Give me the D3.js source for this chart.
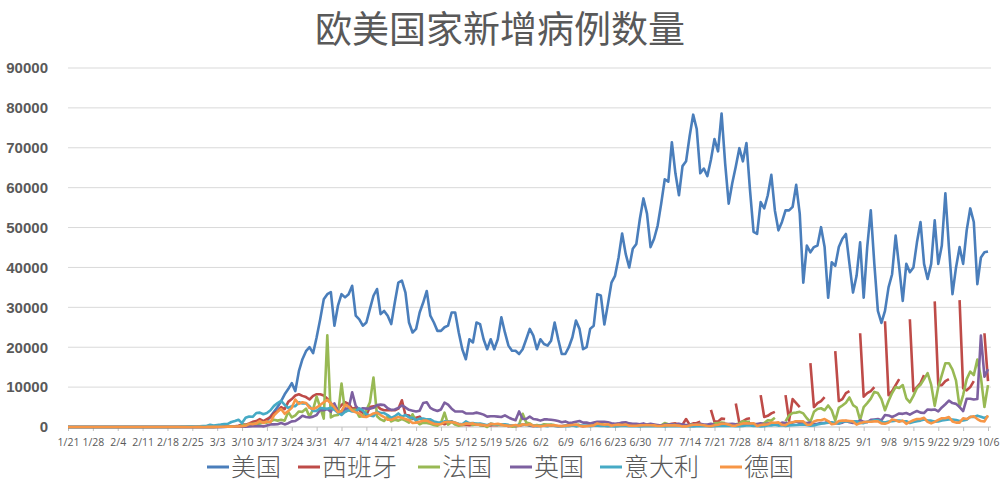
<!DOCTYPE html>
<html>
<head>
<meta charset="utf-8">
<script src="https://cdn.jsdelivr.net/npm/d3@7"></script>
<style>
  body { margin: 0; background: #fff; }
  svg { display: block; font-family: "Noto Sans CJK SC", "Noto Sans", sans-serif; }
</style>
</head>
<body>
<svg id="chart" width="1000" height="491"></svg>
<script>
'use strict';

// ── Data (daily new cases, 1/21 – 10/6) ─────────────────────────────────────
const startDate = new Date(2020, 0, 21);
const dayCount  = 260;

const usCases = [
  1,0,0,1,1,0,2,0,0,1,1,
  1,0,3,0,0,1,0,0,0,1,1,0,1,0,0,0,0,0,0,0,0,0,0,0,5,0,3,1,6,
  20,20,30,30,70,70,100,110,160,290,300,400,600,700,1000,1100,1600,2600,3800,5000,6500,8200,9500,11000,9000,14000,17000,19000,20000,18500,22500,
  27000,32000,33300,33800,25400,30400,33300,32500,33300,35400,27900,27000,25400,26200,29600,32900,34600,28300,29100,27900,25800,31200,36200,36700,33700,26200,23700,24600,28700,31200,
  34100,27900,26200,24100,24100,25000,25400,28700,28700,23700,19500,17000,22000,21200,26200,25800,22000,19500,22000,19500,22000,27500,23700,20400,19100,19100,18300,19500,22000,24600,22900,
  19500,22000,20800,20400,21600,26200,22000,18300,18300,20000,22500,26700,24600,19500,20000,24600,25400,
  33300,33000,25700,30800,36200,37900,42500,48500,43400,40000,44700,45900,52200,
  57300,53500,45100,47200,50500,56000,62100,61500,71400,63600,58100,65400,66600,72900,78300,74700,63600,64800,62900,67000,72200,69100,78600,66100,56000,61100,65300,69900,66600,71200,59400,
  48900,48400,56400,54800,58100,63200,54300,49300,51400,54300,54300,55200,60700,53500,36200,45500,43800,45100,45500,50100,45100,32400,41300,40400,45100,47200,48400,40900,33700,37900,46300,
  32400,45100,54300,40900,29100,26100,29100,35000,38300,48000,40000,31600,40900,38800,40000,46300,51400,40900,37100,40900,51800,40900,45500,58600,45100,33300,40000,45100,40900,49300,
  54800,51400,35800,42500,43800,44000
];

const spainCases = [
  0,0,0,0,0,0,0,0,0,0,0,
  0,0,0,0,0,0,0,0,0,0,0,0,0,0,0,0,0,0,0,0,0,0,0,0,5,4,3,17,13,
  30,40,50,60,50,200,100,200,300,600,600,900,1300,1500,2000,1500,2000,2500,3500,4000,5000,4500,6300,7000,7900,8200,7800,7500,6900,7800,8200,
  8200,7900,7100,6000,5000,4500,5500,6200,5800,4600,4800,4200,3500,3000,5000,5200,5300,4500,4200,4200,4200,4200,4600,6700,3000,2900,2000,2300,2600,1400,
  1200,1800,1000,900,1000,700,1100,1400,800,600,500,600,450,600,700,500,300,350,400,500,480,600,500,200,300,200,300,500,700,300,200,
  300,250,400,300,350,300,200,250,300,350,400,350,300,200,300,350,400,500,350,300,250,300,400,350,450,500,350,300,400,450,
  400,500,450,550,300,350,600,650,800,900,700,600,
  2000,600,900,1000,1300,null,null,
  4300,1300,1400,2100,2000,null,null,
  5900,1000,1500,2000,2200,
  null,null,
  8000,2500,2800,3400,3800,null,null,
  8000,1600,7000,6000,5000,null,null,
  16000,5000,6000,6500,7500,null,null,
  19000,6500,7000,8500,9000,null,null,
  23500,
  7600,8500,9000,10000,null,null,
  26500,8000,9000,10500,12000,null,null,
  27000,9000,10000,11000,13000,null,null,
  31500,10500,10500,11500,12000,null,null,
  31800,9700,9200,
  10000,11500,null,null,23500,11500
];

const franceCases = [
  0,0,0,3,0,0,0,1,1,0,0,
  0,0,0,0,0,0,0,5,0,0,0,0,0,0,0,0,0,0,0,0,0,0,0,0,2,0,15,20,43,
  100,30,60,80,90,200,180,200,100,400,500,600,800,800,900,1200,1100,1400,1800,1600,1800,1600,3800,2400,2900,3900,3800,4600,2600,4400,7600,
  4900,2100,23000,2400,2900,3000,10900,3800,4300,4300,4300,2600,2700,4200,6200,12400,2700,1900,1500,2600,1400,1800,1600,2000,1600,1100,3200,1500,700,1100,
  1000,800,500,300,1000,3600,600,1300,600,300,500,800,1000,500,800,400,500,0,800,600,500,600,400,300,100,200,600,3300,1100,900,300,
  500,300,700,600,600,500,null,null,400,400,500,500,600,null,null,400,500,500,800,500,null,null,300,600,700,400,500,null,null,500,
  600,600,600,null,null,400,1000,700,600,700,null,null,null,600,700,500,900,null,null,500,900,1000,1100,1000,null,null,700,900,1400,1300,1300,
  null,null,700,1000,1700,1600,2300,null,null,1400,2900,3500,3600,3800,3400,2200,1300,3800,4500,4700,4200,5400,4200,1600,4800,5400,6100,7400,5500,4900,1700,
  5000,6000,7100,8800,8500,7000,4200,6500,8500,10000,9800,10500,7200,6200,7800,9800,10600,12000,13500,10600,5300,10000,13000,16000,16000,14400,11600,5000,8000,12000,
  13900,13000,16900,12500,5000,10500
];

const ukCases = [
  0,0,0,0,0,0,0,0,0,0,2,
  0,0,0,0,0,0,0,0,1,0,0,0,0,0,0,0,0,0,0,0,0,0,0,0,0,0,0,2,5,
  10,10,10,10,30,50,50,60,50,60,80,130,200,200,250,150,400,650,650,700,1000,650,950,1400,1500,2100,2800,2500,2400,2600,3000,
  4300,4200,4500,3800,5900,3800,3600,4600,4600,8700,5300,4300,4700,4600,4600,4800,5500,5600,5500,4700,4300,4400,4800,5400,4900,4300,4100,3900,4100,6000,
  6200,4800,4300,4000,4400,6100,5600,4600,3900,3900,3900,3400,3400,3400,3600,3400,3100,2600,2700,2700,2600,2500,2900,2400,2000,1700,3900,2000,2000,2600,2000,
  1900,1600,1900,1900,1800,1700,1500,1200,1400,1000,1100,1300,1500,1100,1100,900,1100,1300,1300,1300,1200,960,800,900,1100,1200,900,800,800,700,
  900,600,800,600,500,350,600,600,650,550,800,650,500,500,650,650,800,600,600,800,500,450,800,800,750,800,700,650,700,900,900,
  750,750,950,700,900,950,850,750,1100,1000,1000,1100,1400,1000,1000,1000,1100,700,800,1000,1000,1300,1000,1000,900,1100,1500,1200,1000,1100,1700,
  1300,1200,1800,1900,2000,1700,3000,2900,2500,2900,3400,3300,3500,3100,3600,4000,3600,3500,4400,4300,4400,3900,4900,5700,6600,6000,5800,5000,4000,7100,
  7100,6900,7000,22900,12600,14500
];

const italyCases = [
  0,0,0,0,0,0,0,0,0,2,0,
  0,0,0,0,0,0,1,0,0,0,0,0,0,0,0,0,0,0,0,0,17,60,70,90,100,80,200,240,240,
  570,350,470,590,770,780,1250,1500,1800,980,2300,2650,2550,3500,3600,3200,3500,4200,5300,5990,6560,5560,4790,5250,5210,6200,5900,5970,5220,4050,4050,
  4780,4670,4580,4800,4300,3600,3000,3800,4200,3900,3900,4700,4100,3200,2900,2700,3800,3500,3500,3000,2300,2700,3400,2600,3000,2400,2300,1700,2100,2100,
  1900,1900,1400,1200,1100,1400,1400,1300,1100,800,700,1400,900,1000,800,875,675,450,800,660,640,650,670,530,300,400,580,590,520,420,350,
  200,300,320,180,520,270,200,200,280,200,380,160,350,340,300,210,330,330,250,260,220,220,110,190,300,260,170,170,180,140,
  190,200,220,240,190,200,140,190,230,280,190,190,170,110,160,230,230,250,220,130,190,280,300,270,250,250,180,210,290,390,380,
  290,240,160,190,380,400,550,350,460,260,410,480,520,570,630,480,320,400,640,840,950,1070,1200,950,880,1370,1370,1410,1460,1440,1000,
  980,1330,1400,1730,1690,1300,1110,1370,1430,1600,1600,1500,1450,1000,1230,1450,1600,1900,1640,1590,1350,1400,1640,1790,1910,1870,1770,1490,1650,1850,
  2550,2500,2840,2580,2260,2680
];

const germanyCases = [
  0,0,0,0,0,0,1,3,0,0,1,
  1,0,2,0,0,0,0,0,1,0,0,0,0,0,0,0,0,0,0,0,0,0,0,0,0,6,20,3,20,
  60,20,30,50,80,140,100,120,150,200,300,800,700,900,1500,1000,1400,1200,2900,3800,4500,3300,4000,4800,6900,5800,6200,6000,4800,4500,4900,
  5500,6200,6800,5900,4900,3700,4000,5600,5100,4100,3700,3400,2600,2500,2900,3400,3600,3000,2500,1800,1800,2200,2500,2300,2000,1700,1000,1100,1300,1600,
  1600,1200,800,700,700,1200,1300,1200,1100,700,600,900,800,900,600,600,500,300,800,700,800,600,400,300,300,500,300,700,500,700,300,
  300,200,300,400,400,400,300,200,300,400,500,600,300,200,200,300,400,900,700,600,700,300,500,600,500,600,300,300,300,400,
  450,500,450,400,250,250,400,400,450,400,350,150,150,350,550,600,550,450,250,200,450,550,800,800,600,300,350,600,900,900,870,
  950,240,500,600,700,1100,1050,1150,550,450,1000,1200,1450,1450,1400,600,550,1400,1700,1700,2000,1500,700,800,1500,1600,1600,1500,1400,600,1000,
  1200,1300,1300,1400,1400,900,800,1100,1900,1700,1300,1600,800,1300,1700,2000,2000,2300,1300,900,1300,1800,2200,2200,2500,1400,1100,1100,2200,2000,
  2500,2700,2000,1500,1400,2900
];

const seriesNames  = ['美国', '西班牙', '法国', '英国', '意大利', '德国'];
const seriesColors = ['#4a7ebb', '#be4b48', '#98b954', '#7d60a0', '#46aac5', '#f79646'];
const seriesValues = [usCases, spainCases, franceCases, ukCases, italyCases, germanyCases];
const yTicks = [0, 10000, 20000, 30000, 40000, 50000, 60000, 70000, 80000, 90000];

// ── Layout ──────────────────────────────────────────────────────────────────
const svg = d3.select('#chart');
const X0 = 68, X1 = 988, Y0 = 427, Y1 = 68;
const TEXT = '#595959';

const days = d3.range(dayCount).map(i => d3.timeDay.offset(startDate, i));

const x = d3.scaleTime().domain([days[0], days[dayCount - 1]]).range([X0, X1]);
const y = d3.scaleLinear().domain([0, 90000]).range([Y0, Y1]);

// Title
svg.append('text')
  .attr('x', 500).attr('y', 43)
  .attr('text-anchor', 'middle')
  .attr('fill', TEXT)
  .attr('font-size', '37px')
  .text('欧美国家新增病例数量');

// Grid
svg.append('g')
  .selectAll('line')
  .data(yTicks.slice(1))
  .join('line')
  .attr('x1', X0).attr('x2', X1 + 3)
  .attr('y1', d => y(d)).attr('y2', d => y(d))
  .attr('stroke', '#d9d9d9').attr('stroke-width', 1);

// Y axis labels
const yAxis = d3.axisLeft(y).tickValues(yTicks).tickSize(0).tickPadding(20).tickFormat(d3.format('d'));
svg.append('g')
  .attr('transform', `translate(${X0}, 0)`)
  .call(yAxis)
  .call(ax => ax.select('.domain').remove())
  .call(ax => ax.selectAll('text')
    .attr('fill', TEXT).attr('font-size', '15px').attr('font-weight', 'bold')
    .attr('font-family', '"Liberation Sans", Arial, sans-serif'));

// X axis: every 7 days (10/6 falls on one)
const xTickDays = days.filter((d, i) => i % 7 === 0);
const xAxis = d3.axisBottom(x)
  .tickValues(xTickDays)
  .tickSize(4)
  .tickFormat(d3.timeFormat('%-m/%-d'));
svg.append('g')
  .attr('transform', `translate(0, ${Y0})`)
  .call(xAxis)
  .call(ax => ax.select('.domain').attr('stroke', '#bfbfbf').attr('d', `M${X0},0H${X1 + 3}`))
  .call(ax => ax.selectAll('line').attr('stroke', '#bfbfbf'))
  .call(ax => ax.selectAll('text')
    .attr('fill', TEXT).attr('font-size', '10.5px').attr('dy', '1.1em')
    .attr('font-family', '"Open Sans", "DejaVu Sans", sans-serif'));

// Lines
const line = d3.line()
  .defined(d => d.v !== null)
  .x(d => x(d.date))
  .y(d => y(d.v));

seriesValues.forEach((vals, i) => {
  const pts = vals.map((v, k) => ({ date: days[k], v }));
  svg.append('path')
    .datum(pts)
    .attr('fill', 'none')
    .attr('stroke', seriesColors[i])
    .attr('stroke-width', 2.6)
    .attr('stroke-linejoin', 'round')
    .attr('d', line);
});

// Legend
const legendX = [207, 298, 418, 510, 600, 720];
const lg = svg.append('g').attr('transform', 'translate(0, 467)');
seriesNames.forEach((name, i) => {
  lg.append('line')
    .attr('x1', legendX[i]).attr('x2', legendX[i] + 22)
    .attr('y1', 0).attr('y2', 0)
    .attr('stroke', seriesColors[i]).attr('stroke-width', 3);
  lg.append('text')
    .attr('x', legendX[i] + 24).attr('y', 9)
    .attr('fill', TEXT)
    .attr('font-size', '25px')
    .attr('font-weight', 300)
    .text(name);
});
</script>
</body>
</html>
